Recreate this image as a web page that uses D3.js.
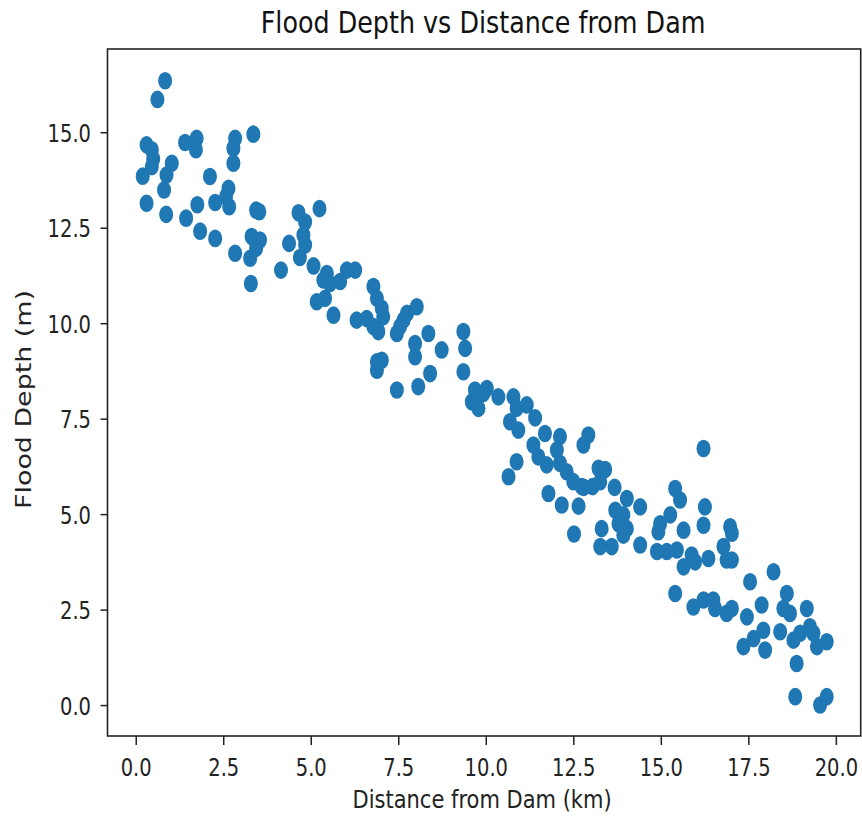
<!DOCTYPE html>
<html><head><meta charset="utf-8">
<script src="https://cdn.jsdelivr.net/npm/d3@7"></script>
<style>body{margin:0;background:#fff}</style>
</head><body>
<svg id="c" width="862" height="818"></svg>
<script>
const distanceKm = [
0.84,0.62,0.31,0.46,0.5,0.46,0.2,1.03,0.88,0.81,0.31,0.87,1.41,1.74,1.72,2.12,1.76,1.44,1.84,2.27,2.27,2.65,2.58,2.67,2.84,2.79,2.79,3.36,3.44,3.53,3.31,3.55,3.44,3.27,2.84,3.29,4.15,4.38,4.65,4.84,
5.25,4.79,4.84,4.69,5.08,5.46,5.36,5.55,5.84,6.03,6.27,5.17,5.41,5.65,6.79,6.89,7.03,7.07,6.31,6.6,6.79,6.93,6.89,7.03,6.89,7.46,8.07,8.41,7.98,7.98,8.36,8.74,7.46,7.65,7.55,7.75,8.03,
9.36,9.41,9.36,9.69,10.03,9.6,9.79,9.93,10.36,10.79,10.88,11.17,10.69,10.93,11.41,11.69,12.12,11.36,11.5,11.74,12.03,12.12,12.31,12.5,12.74,13.05,13.22,13.41,13.27,12.8,13.68,12.93,12.79,10.88,10.65,11.79,12.17,12.65,13.7,12.52,
16.22,14.03,13.93,13.79,14.03,13.93,13.31,13.27,13.6,14.41,14.41,14.98,14.93,15.27,14.89,15.17,15.46,15.41,15.55,15.65,16.26,16.22,15.88,15.65,15.98,16.36,16.98,17.03,16.79,16.88,17.03,15.41,15.93,16.22,16.5,16.55,16.88,17.03,17.46,17.55,18.22,17.88,18.6,18.5,18.69,19.17,19.26,19.36,19.74,19.46,18.98,18.79,18.41,17.93,17.65,17.36,17.98,18.88,18.84,19.55,19.74
];
const floodDepthM = [
16.35,15.86,14.67,14.54,14.3,14.1,13.85,14.19,13.88,13.49,13.14,12.85,14.73,14.84,14.54,13.84,13.1,12.75,12.41,12.22,13.16,13.53,13.31,13.05,14.84,14.58,14.19,14.95,12.96,12.92,12.27,12.18,11.96,11.7,11.83,11.04,11.39,12.09,12.89,12.65,
13.0,12.31,12.05,11.72,11.5,11.3,11.13,11.04,11.09,11.39,11.39,10.56,10.65,10.21,10.96,10.65,10.39,10.17,10.08,10.12,9.91,9.78,8.99,9.03,8.77,8.25,8.34,8.68,9.47,9.12,9.73,9.3,9.73,10.08,9.91,10.26,10.43,
9.78,9.34,8.73,8.25,8.29,7.94,7.77,8.16,8.07,8.07,7.77,7.86,7.42,7.2,7.52,7.11,7.03,6.81,6.5,6.29,6.68,6.33,6.11,5.85,5.72,5.72,6.2,6.17,5.85,5.7,5.7,7.07,6.81,6.37,5.98,5.54,5.24,5.21,5.1,4.48,
6.72,5.41,4.98,4.75,4.62,4.45,4.62,4.15,4.15,5.19,4.19,4.75,4.54,4.98,4.02,4.02,4.06,5.67,5.37,4.58,5.19,4.71,3.93,3.62,3.75,3.84,4.67,4.5,4.15,3.8,3.8,2.92,2.57,2.75,2.75,2.53,2.4,2.53,2.31,3.23,3.49,2.62,2.92,2.53,2.4,2.53,2.05,1.88,1.66,1.53,1.88,1.7,1.92,1.96,1.74,1.53,1.44,1.09,0.22,0.0,0.22
];
const xTickValues = [0, 2.5, 5, 7.5, 10, 12.5, 15, 17.5, 20];
const yTickValues = [0, 2.5, 5, 7.5, 10, 12.5, 15];
const titleText = "Flood Depth vs Distance from Dam";
const xLabelText = "Distance from Dam (km)";
const yLabelText = "Flood Depth (m)";

const points = distanceKm.map((d, i) => ({x: d, y: floodDepthM[i]}));

const svg = d3.select("#c");
const L = 107.5, R = 860.7, T = 49, B = 736;
const SY = 1.28;           // vertical stretch of the picture
const FONT = "DejaVu Sans, Verdana, sans-serif";
const color = "#1f77b4";

const x = d3.scaleLinear().domain([-0.806, 20.71]).range([L, R]);
const y = d3.scaleLinear().domain([-0.81, 17.18]).range([B, T]);

// points
svg.append("g").selectAll("ellipse").data(points).join("ellipse")
  .attr("cx", d => x(d.x)).attr("cy", d => y(d.y))
  .attr("rx", 7).attr("ry", 8.8)
  .attr("fill", color);

// frame
svg.append("rect").attr("x", L).attr("y", T).attr("width", R - L).attr("height", B - T)
  .attr("fill", "none").attr("stroke", "#222").attr("stroke-width", 1.6);

// x axis
const xa = svg.append("g").attr("transform", `translate(0,${B})`)
  .call(d3.axisBottom(x).tickValues(xTickValues).tickFormat(d3.format(".1f")).tickSize(9).tickSizeOuter(0));
xa.select(".domain").remove();
xa.selectAll("line").attr("stroke", "#222").attr("stroke-width", 1.5);
xa.selectAll("text").attr("y", null).attr("dy", null)
  .attr("transform", `translate(0,39.5) scale(1,${SY})`)
  .attr("font-family", FONT).attr("font-size", 19.5).attr("fill", "#222");

// y axis
const ya = svg.append("g").attr("transform", `translate(${L},0)`)
  .call(d3.axisLeft(y).tickValues(yTickValues).tickFormat(d3.format(".1f")).tickSize(7).tickSizeOuter(0));
ya.select(".domain").remove();
ya.selectAll("line").attr("stroke", "#222").attr("stroke-width", 1.5);
ya.selectAll("text").attr("x", null).attr("dy", null)
  .attr("text-anchor", "end")
  .attr("transform", `translate(-16.5,9.2) scale(1,${SY})`)
  .attr("font-family", FONT).attr("font-size", 19.5).attr("fill", "#222");

// title
svg.append("text").attr("transform", `translate(${(L + R) / 2 - 1},33) scale(1,1.18)`)
  .attr("text-anchor", "middle").attr("font-family", FONT).attr("font-size", 25.4)
  .attr("fill", "#111").text(titleText);

// x label
svg.append("text").attr("transform", `translate(${(L + R) / 2 - 2},808) scale(1,1.2)`)
  .attr("text-anchor", "middle").attr("font-family", FONT).attr("font-size", 21)
  .attr("fill", "#222").text(xLabelText);

// y label
svg.append("text").attr("transform", `translate(31,${(T + B) / 2 + 7}) scale(1,${SY}) rotate(-90)`)
  .attr("text-anchor", "middle").attr("font-family", FONT).attr("font-size", 21)
  .attr("fill", "#222").text(yLabelText);
</script>
</body></html>
